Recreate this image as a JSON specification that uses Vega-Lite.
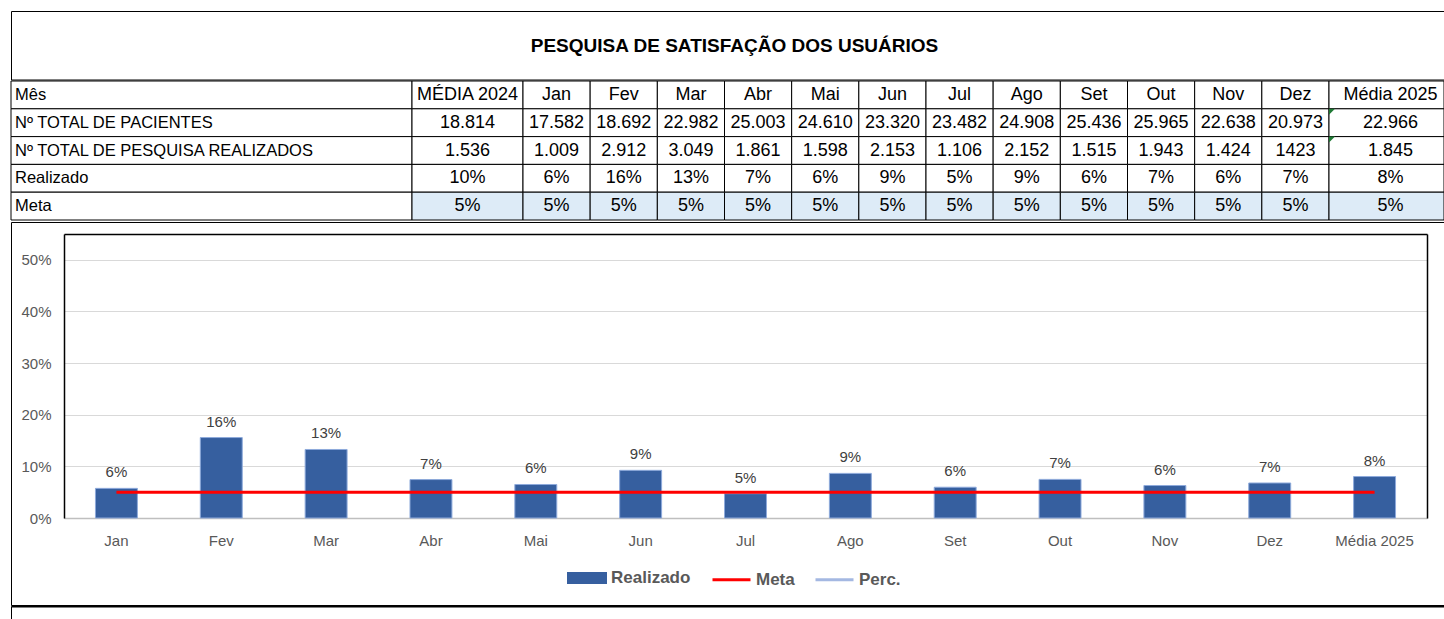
{
  "$schema": "https://vega.github.io/schema/vega-lite/v6.json",
  "padding": {"left": 10, "top": 10, "right": 0, "bottom": 0},
  "config": {"font": "Liberation Sans", "view": {"stroke": null}},
  "datasets": {
    "tabela": [
      {"Mês": "MÉDIA 2024", "Nº TOTAL DE PACIENTES": "18.814", "Nº TOTAL DE PESQUISA REALIZADOS": "1.536", "Realizado": "10%", "Meta": "5%"},
      {"Mês": "Jan", "Nº TOTAL DE PACIENTES": "17.582", "Nº TOTAL DE PESQUISA REALIZADOS": "1.009", "Realizado": "6%", "Meta": "5%"},
      {"Mês": "Fev", "Nº TOTAL DE PACIENTES": "18.692", "Nº TOTAL DE PESQUISA REALIZADOS": "2.912", "Realizado": "16%", "Meta": "5%"},
      {"Mês": "Mar", "Nº TOTAL DE PACIENTES": "22.982", "Nº TOTAL DE PESQUISA REALIZADOS": "3.049", "Realizado": "13%", "Meta": "5%"},
      {"Mês": "Abr", "Nº TOTAL DE PACIENTES": "25.003", "Nº TOTAL DE PESQUISA REALIZADOS": "1.861", "Realizado": "7%", "Meta": "5%"},
      {"Mês": "Mai", "Nº TOTAL DE PACIENTES": "24.610", "Nº TOTAL DE PESQUISA REALIZADOS": "1.598", "Realizado": "6%", "Meta": "5%"},
      {"Mês": "Jun", "Nº TOTAL DE PACIENTES": "23.320", "Nº TOTAL DE PESQUISA REALIZADOS": "2.153", "Realizado": "9%", "Meta": "5%"},
      {"Mês": "Jul", "Nº TOTAL DE PACIENTES": "23.482", "Nº TOTAL DE PESQUISA REALIZADOS": "1.106", "Realizado": "5%", "Meta": "5%"},
      {"Mês": "Ago", "Nº TOTAL DE PACIENTES": "24.908", "Nº TOTAL DE PESQUISA REALIZADOS": "2.152", "Realizado": "9%", "Meta": "5%"},
      {"Mês": "Set", "Nº TOTAL DE PACIENTES": "25.436", "Nº TOTAL DE PESQUISA REALIZADOS": "1.515", "Realizado": "6%", "Meta": "5%"},
      {"Mês": "Out", "Nº TOTAL DE PACIENTES": "25.965", "Nº TOTAL DE PESQUISA REALIZADOS": "1.943", "Realizado": "7%", "Meta": "5%"},
      {"Mês": "Nov", "Nº TOTAL DE PACIENTES": "22.638", "Nº TOTAL DE PESQUISA REALIZADOS": "1.424", "Realizado": "6%", "Meta": "5%"},
      {"Mês": "Dez", "Nº TOTAL DE PACIENTES": "20.973", "Nº TOTAL DE PESQUISA REALIZADOS": "1423", "Realizado": "7%", "Meta": "5%"},
      {"Mês": "Média 2025", "Nº TOTAL DE PACIENTES": "22.966", "Nº TOTAL DE PESQUISA REALIZADOS": "1.845", "Realizado": "8%", "Meta": "5%"}
    ],
    "grafico": [
      {"mes": "Jan", "Realizado": 0.0574, "Meta": 0.05},
      {"mes": "Fev", "Realizado": 0.1558, "Meta": 0.05},
      {"mes": "Mar", "Realizado": 0.1327, "Meta": 0.05},
      {"mes": "Abr", "Realizado": 0.0744, "Meta": 0.05},
      {"mes": "Mai", "Realizado": 0.0649, "Meta": 0.05},
      {"mes": "Jun", "Realizado": 0.0923, "Meta": 0.05},
      {"mes": "Jul", "Realizado": 0.0471, "Meta": 0.05},
      {"mes": "Ago", "Realizado": 0.0864, "Meta": 0.05},
      {"mes": "Set", "Realizado": 0.0596, "Meta": 0.05},
      {"mes": "Out", "Realizado": 0.0748, "Meta": 0.05},
      {"mes": "Nov", "Realizado": 0.0629, "Meta": 0.05},
      {"mes": "Dez", "Realizado": 0.0678, "Meta": 0.05},
      {"mes": "Média 2025", "Realizado": 0.0803, "Meta": 0.05}
    ]
  },
  "spacing": 0,
  "vconcat": [
    {
      "width": 1433,
      "height": 68.5,
      "view": {"stroke": "black", "strokeWidth": 1},
      "data": {"values": [{"titulo": "PESQUISA DE SATISFAÇÃO DOS USUÁRIOS"}]},
      "mark": {"type": "text", "fontWeight": "bold", "fontSize": 19, "dx": 7, "dy": 1, "color": "black"},
      "encoding": {"text": {"field": "titulo"}}
    },
    {
      "spacing": 0,
      "bounds": "flush",
      "hconcat": [
        {
          "width": 401,
          "height": 139,
          "data": {"name": "tabela"},
          "transform": [
            {"filter": {"field": "Mês", "equal": "MÉDIA 2024"}},
            {"fold": ["Mês", "Nº TOTAL DE PACIENTES", "Nº TOTAL DE PESQUISA REALIZADOS", "Realizado", "Meta"], "as": ["linha", "valor"]}
          ],
          "encoding": {
            "y": {"field": "linha", "type": "nominal", "sort": ["Mês", "Nº TOTAL DE PACIENTES", "Nº TOTAL DE PESQUISA REALIZADOS", "Realizado", "Meta"], "scale": {"paddingInner": 0, "paddingOuter": 0}, "axis": null}
          },
          "layer": [
            {"mark": {"type": "rect", "fill": "white", "stroke": "black", "strokeWidth": 1}},
            {
              "mark": {"type": "text", "align": "left", "dx": 4, "fontSize": 16.5, "color": "black"},
              "encoding": {
                "text": {"field": "linha"},
                "x": {"datum": "rótulo", "type": "nominal", "bandPosition": 0, "scale": {"type": "band", "paddingInner": 0, "paddingOuter": 0}, "axis": null}
              }
            }
          ]
        },
        {
          "width": 111,
          "height": 139,
          "data": {"name": "tabela"},
          "transform": [
            {"filter": {"field": "Mês", "equal": "MÉDIA 2024"}},
            {"fold": ["Mês", "Nº TOTAL DE PACIENTES", "Nº TOTAL DE PESQUISA REALIZADOS", "Realizado", "Meta"], "as": ["linha", "valor"]}
          ],
          "encoding": {
            "y": {"field": "linha", "type": "nominal", "sort": ["Mês", "Nº TOTAL DE PACIENTES", "Nº TOTAL DE PESQUISA REALIZADOS", "Realizado", "Meta"], "scale": {"paddingInner": 0, "paddingOuter": 0}, "axis": null}
          },
          "layer": [
            {
              "mark": {"type": "rect", "stroke": "black", "strokeWidth": 1},
              "encoding": {"fill": {"condition": {"test": "datum.linha === 'Meta'", "value": "#ddebf7"}, "value": "white"}}
            },
            {
              "mark": {"type": "text", "fontSize": 18, "color": "black"},
              "encoding": {"text": {"field": "valor"}}
            }
          ]
        },
        {
          "width": 806,
          "height": 139,
          "data": {"name": "tabela"},
          "transform": [
            {"filter": {"field": "Mês", "oneOf": ["Jan", "Fev", "Mar", "Abr", "Mai", "Jun", "Jul", "Ago", "Set", "Out", "Nov", "Dez"]}},
            {"fold": ["Mês", "Nº TOTAL DE PACIENTES", "Nº TOTAL DE PESQUISA REALIZADOS", "Realizado", "Meta"], "as": ["linha", "valor"]}
          ],
          "encoding": {
            "x": {"field": "Mês", "type": "nominal", "sort": ["Jan", "Fev", "Mar", "Abr", "Mai", "Jun", "Jul", "Ago", "Set", "Out", "Nov", "Dez"], "scale": {"paddingInner": 0, "paddingOuter": 0}, "axis": null},
            "y": {"field": "linha", "type": "nominal", "sort": ["Mês", "Nº TOTAL DE PACIENTES", "Nº TOTAL DE PESQUISA REALIZADOS", "Realizado", "Meta"], "scale": {"paddingInner": 0, "paddingOuter": 0}, "axis": null}
          },
          "layer": [
            {
              "mark": {"type": "rect", "stroke": "black", "strokeWidth": 1},
              "encoding": {"fill": {"condition": {"test": "datum.linha === 'Meta'", "value": "#ddebf7"}, "value": "white"}}
            },
            {
              "mark": {"type": "text", "fontSize": 18, "color": "black"},
              "encoding": {"text": {"field": "valor"}}
            }
          ]
        },
        {
          "width": 115,
          "height": 139,
          "data": {"name": "tabela"},
          "transform": [
            {"filter": {"field": "Mês", "equal": "Média 2025"}},
            {"fold": ["Mês", "Nº TOTAL DE PACIENTES", "Nº TOTAL DE PESQUISA REALIZADOS", "Realizado", "Meta"], "as": ["linha", "valor"]}
          ],
          "encoding": {
            "y": {"field": "linha", "type": "nominal", "sort": ["Mês", "Nº TOTAL DE PACIENTES", "Nº TOTAL DE PESQUISA REALIZADOS", "Realizado", "Meta"], "scale": {"paddingInner": 0, "paddingOuter": 0}, "axis": null}
          },
          "layer": [
            {
              "mark": {"type": "rect", "stroke": "black", "strokeWidth": 1},
              "encoding": {"fill": {"condition": {"test": "datum.linha === 'Meta'", "value": "#ddebf7"}, "value": "white"}}
            },
            {
              "mark": {"type": "text", "fontSize": 18, "color": "black", "dx": 4},
              "encoding": {"text": {"field": "valor"}}
            },
            {
              "transform": [{"filter": {"field": "linha", "oneOf": ["Nº TOTAL DE PACIENTES", "Nº TOTAL DE PESQUISA REALIZADOS"]}}],
              "mark": {"type": "point", "shape": "M0,0H1L0,1Z", "size": 144, "filled": true, "color": "#1f7a35", "opacity": 1, "strokeWidth": 0},
              "encoding": {
                "x": {"datum": "canto", "type": "nominal", "bandPosition": 0, "scale": {"type": "band", "paddingInner": 0, "paddingOuter": 0}, "axis": null},
                "y": {"field": "linha", "type": "nominal", "bandPosition": 0, "sort": ["Mês", "Nº TOTAL DE PACIENTES", "Nº TOTAL DE PESQUISA REALIZADOS", "Realizado", "Meta"], "axis": null}
              }
            }
          ]
        }
      ]
    },
    {
      "width": 1433,
      "height": 383,
      "view": {"stroke": "black", "strokeWidth": 1},
      "data": {"name": "grafico"},
      "resolve": {"scale": {"x": "independent", "y": "independent"}},
      "layer": [
        {
          "encoding": {
            "x": {
              "field": "mes", "type": "nominal", "sort": null, "title": null,
              "scale": {"range": [53, 1416], "paddingInner": 0.6, "paddingOuter": 0.3},
              "axis": {"orient": "bottom", "offset": -87, "labelAngle": 0, "labelPadding": 15, "ticks": false, "domainColor": "#bfbfbf", "domainWidth": 1.5, "labelColor": "#595959", "labelFontSize": 15, "grid": false}
            }
          },
          "layer": [
            {
              "mark": {"type": "bar", "stroke": "#8eaadb", "strokeWidth": 1},
              "encoding": {
                "y": {
                  "field": "Realizado", "type": "quantitative", "title": null,
                  "scale": {"domain": [0, 0.55], "range": [296, 12], "nice": false},
                  "axis": {"orient": "left", "offset": -53, "values": [0, 0.1, 0.2, 0.3, 0.4, 0.5], "format": ".0%", "labelPadding": 13, "ticks": false, "grid": true, "gridColor": "#d9d9d9", "gridWidth": 1, "domainColor": "black", "domainWidth": 1.5, "labelColor": "#595959", "labelFontSize": 15}
                },
                "fill": {
                  "datum": "Realizado", "type": "nominal",
                  "scale": {"domain": ["Realizado"], "range": ["#365f9f"]},
                  "legend": {"orient": "none", "legendX": 556, "legendY": 547, "title": null, "padding": 0, "symbolType": "M-1,-0.3H1V0.3H-1Z", "symbolSize": 1600, "symbolStrokeWidth": 0, "labelFontSize": 17, "labelFontWeight": "bold", "labelColor": "#595959", "labelOffset": 4}
                }
              }
            },
            {
              "mark": {"type": "text", "baseline": "bottom", "dy": -8, "fontSize": 15, "color": "#404040"},
              "encoding": {
                "y": {"field": "Realizado", "type": "quantitative", "title": null, "scale": {"domain": [0, 0.55], "range": [296, 12], "nice": false}},
                "text": {"field": "Realizado", "format": ".0%"}
              }
            },
            {
              "mark": {"type": "line", "strokeWidth": 3},
              "encoding": {
                "y": {"field": "Meta", "type": "quantitative", "title": null, "scale": {"domain": [0, 0.55], "range": [296, 12], "nice": false}},
                "stroke": {
                  "datum": "Meta", "type": "nominal",
                  "scale": {"domain": ["Meta", "Perc."], "range": ["#ff0000", "#a4b8e2"]},
                  "legend": {"orient": "none", "legendX": 700, "legendY": 548, "direction": "horizontal", "title": null, "padding": 0, "symbolType": "stroke", "symbolSize": 1444, "symbolStrokeWidth": 3, "columnPadding": 14, "labelFontSize": 17, "labelFontWeight": "bold", "labelColor": "#595959", "labelOffset": 4}
                }
              }
            }
          ]
        },
        {
          "mark": {"type": "point", "opacity": 0},
          "encoding": {
            "x": {
              "field": "mes", "type": "nominal", "sort": null, "title": null,
              "scale": {"type": "band", "range": [53, 1416], "paddingInner": 0.6, "paddingOuter": 0.3},
              "axis": {"orient": "top", "offset": -12, "labels": false, "ticks": false, "domainColor": "black", "domainWidth": 1.5, "grid": false}
            },
            "y": {
              "field": "Realizado", "type": "quantitative", "title": null,
              "scale": {"domain": [0, 0.55], "range": [296, 12], "nice": false},
              "axis": {"orient": "right", "offset": -17, "labels": false, "ticks": false, "grid": false, "domainColor": "black", "domainWidth": 1.5}
            }
          }
        }
      ]
    },
    {
      "width": 1433,
      "height": 14,
      "data": {"values": [{"k": "a"}]},
      "mark": {"type": "point", "opacity": 0},
      "encoding": {
        "x": {"field": "k", "type": "nominal", "title": null, "axis": {"orient": "top", "labels": false, "ticks": false, "domainColor": "black", "domainWidth": 2}},
        "y": {"field": "k", "type": "nominal", "title": null, "axis": {"orient": "left", "labels": false, "ticks": false, "domainColor": "black", "domainWidth": 1}}
      }
    }
  ]
}
